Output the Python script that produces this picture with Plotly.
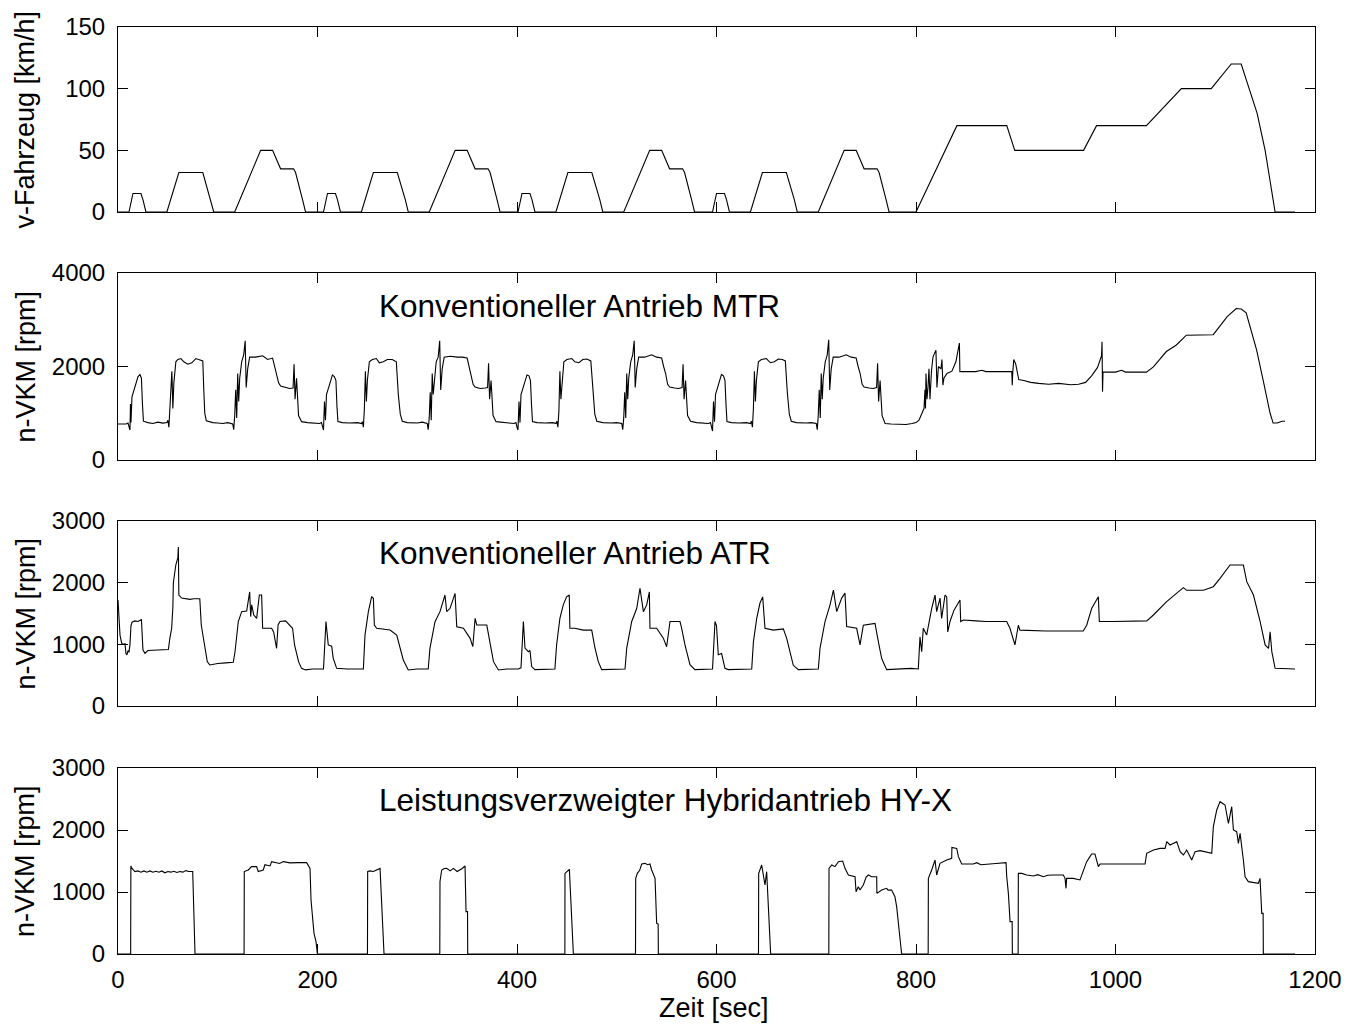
import plotly.graph_objects as go

# ---------------- data ----------------
# vehicle speed (NEDC-like cycle), time [s] and speed [km/h]
v_time = [0, 11, 15, 23, 25, 28, 49, 61, 85, 93, 96, 117, 143, 155, 163, 176, 178, 185, 188,
          206, 210, 218, 220, 223, 244, 256, 280, 288, 291, 312, 338, 350, 358, 371, 373, 380, 383,
          401, 405, 413, 415, 418, 439, 451, 475, 483, 486, 507, 533, 545, 553, 566, 568, 575, 578,
          596, 600, 608, 610, 613, 634, 646, 670, 678, 681, 702, 728, 740, 748, 761, 763, 770, 773,
          800, 841, 891, 899, 968, 981, 1031, 1066, 1096, 1116, 1126, 1142, 1150, 1160, 1180]
v_kmh = [0, 0, 15, 15, 10, 0, 0, 32, 32, 10, 0, 0, 50, 50, 35, 35, 32, 10, 0,
         0, 15, 15, 10, 0, 0, 32, 32, 10, 0, 0, 50, 50, 35, 35, 32, 10, 0,
         0, 15, 15, 10, 0, 0, 32, 32, 10, 0, 0, 50, 50, 35, 35, 32, 10, 0,
         0, 15, 15, 10, 0, 0, 32, 32, 10, 0, 0, 50, 50, 35, 35, 32, 10, 0,
         0, 70, 70, 50, 50, 70, 70, 100, 100, 120, 120, 80, 50, 0, 0]

# engine speed, conventional drive with manual transmission (time, rpm)
mtr_points = [
    (0, 770), (8, 770), (10, 790), (11, 700), (12, 640), (12.5, 1200), (13, 800), (14, 1350), (16, 1500), (18, 1620),
    (20, 1780), (22, 1830), (23.5, 1750), (24.5, 1200), (25.5, 830), (30, 800), (35, 780), (40, 810), (45, 790), (49, 800),
    (50, 850), (51, 700), (52, 1050), (53, 1550), (54, 1900), (55, 1100), (56, 1650), (58, 2100), (60, 2150), (63, 2170),
    (66, 2100), (70, 2050), (74, 2080), (78, 2170), (82, 2150), (85, 2120), (86, 1500), (87, 1000), (88.5, 840), (95, 800),
    (100, 790), (105, 780), (110, 800), (115, 770), (116, 650), (117, 950), (118, 1500), (119, 900), (120, 1850), (121, 1250),
    (122, 1750), (124, 2100), (126, 2250), (127.5, 2550), (128.5, 1550), (130, 1950), (132, 2200), (138, 2200), (145, 2230), (150, 2150),
    (155, 2180), (157, 2000), (159, 1880), (161, 1650), (163, 1580), (168, 1550), (172, 1530), (175.5, 1540), (176.5, 2050), (177.5, 1300),
    (179, 1750), (181, 950), (184, 820), (190, 800), (197, 790),
    (202, 780), (204, 800), (205, 700), (206, 640), (207, 1250), (208, 850), (209, 1400), (211, 1550), (213, 1700), (215, 1820),
    (217, 1780), (218.5, 1700), (219.5, 1150), (220.5, 820), (225, 800), (232, 790), (240, 800), (244, 780), (245, 820), (246, 700),
    (247, 1100), (248, 1900), (249, 1250), (250, 1700), (252, 2100), (255, 2150), (259, 2170), (262, 2080), (266, 2100), (270, 2150),
    (275, 2150), (279, 2100), (281, 1400), (283, 980), (285, 830), (290, 800), (300, 790), (305, 810), (310, 780), (311, 650),
    (312, 900), (313, 1450), (314, 850), (315, 1850), (316, 1400), (317, 1700), (319, 2100), (321, 2200), (322.5, 2550), (323.5, 1500),
    (325, 1950), (327, 2200), (333, 2220), (340, 2200), (345, 2200), (350, 2180), (352, 2000), (354, 1850), (356, 1620), (358, 1560),
    (363, 1530), (368, 1540), (370.5, 1550), (371.5, 2070), (372.5, 1300), (374, 1700), (376, 950), (379, 820), (385, 800), (392, 790),
    (397, 780), (399, 800), (400, 700), (401, 640), (402, 1250), (403, 800), (404, 1400), (406, 1550), (408, 1700), (410, 1820),
    (412, 1800), (413.5, 1700), (414.5, 1200), (415.5, 820), (420, 800), (428, 790), (436, 800), (439, 780), (440, 830), (441, 700),
    (442, 1050), (443, 1900), (444, 1300), (445, 1650), (447, 2100), (450, 2150), (455, 2170), (458, 2100), (462, 2080), (466, 2150),
    (470, 2160), (474, 2120), (476, 1450), (478, 980), (480, 830), (486, 800), (494, 790), (500, 800), (505, 780), (506, 650),
    (507, 900), (508, 1450), (509, 900), (510, 1850), (511, 1300), (512, 1750), (514, 2100), (516, 2250), (517.5, 2550), (518.5, 1550),
    (520, 1950), (522, 2200), (528, 2200), (535, 2250), (540, 2200), (545, 2180), (547, 2000), (549, 1850), (551, 1620), (553, 1560),
    (558, 1540), (562, 1530), (565.5, 1550), (566.5, 2050), (567.5, 1300), (569, 1700), (571, 950), (574, 830), (580, 800), (587, 790),
    (592, 780), (594, 800), (595, 700), (596, 620), (597, 1250), (598, 820), (599, 1400), (601, 1550), (603, 1700), (605, 1830),
    (607, 1800), (608.5, 1700), (609.5, 1200), (610.5, 820), (615, 800), (622, 790), (630, 800), (634, 780), (635, 830), (636, 700),
    (637, 1100), (638, 1900), (639, 1250), (640, 1700), (642, 2100), (645, 2150), (650, 2170), (654, 2080), (658, 2100), (662, 2160),
    (666, 2150), (669, 2120), (671, 1450), (673, 980), (675, 830), (680, 800), (690, 790), (695, 800), (700, 780), (701, 650),
    (702, 950), (703, 1500), (704, 900), (705, 1850), (706, 1300), (707, 1750), (709, 2100), (711, 2250), (712.5, 2570), (713.5, 1500),
    (715, 1950), (717, 2200), (723, 2200), (730, 2250), (735, 2200), (740, 2180), (742, 2000), (744, 1850), (746, 1620), (748, 1560),
    (753, 1540), (757, 1530), (760.5, 1550), (761.5, 2070), (762.5, 1250), (764, 1700), (766, 950), (769, 780), (775, 770), (782, 760),
    (790, 760), (796, 780),
    (800, 800), (803, 850), (806, 1000), (808, 1100), (809, 1500), (809.5, 1100), (810, 1850), (811, 1300), (812, 1550), (813, 1950),
    (814, 1300), (815.5, 1900), (817, 2200), (819, 2300), (820, 2350), (821, 1550), (822.5, 2000), (825, 1950), (826, 2150), (827, 1600),
    (828, 1750), (831, 1850), (836, 1900), (840, 2100), (842, 2300), (843.5, 2500), (844, 1890), (860, 1890), (866, 1920), (870, 1890),
    (896, 1890), (896.5, 1600), (897, 1870), (898, 2150), (900, 2050), (903, 1720), (908, 1700), (915, 1660), (923, 1640), (933, 1620),
    (943, 1640), (955, 1610), (963, 1620), (970, 1660), (976, 1800), (982, 1980), (986, 2230), (986.5, 2530), (987, 1460), (987.5, 1880),
    (1000, 1880), (1006, 1920), (1010, 1880), (1031, 1880), (1038, 1990), (1051, 2320), (1061, 2460), (1071, 2670), (1098, 2680), (1105, 2880),
    (1112, 3065), (1121, 3240), (1126, 3230), (1131, 3150), (1135, 2850), (1141.5, 2350), (1148, 1710), (1155, 1000), (1158, 790), (1162, 790),
    (1167, 830), (1170, 830),
]

# engine speed, conventional drive with automatic transmission (time, rpm)
atr_points = [
    (0, 1720), (1, 1400), (2, 1150), (3.7, 1020), (5, 1000), (7, 1010), (8, 850), (9, 830), (10, 900), (11, 870),
    (12, 1000), (13, 1300), (14, 1360), (17, 1380), (20, 1370), (23.5, 1400), (25, 910), (27, 855), (30, 900), (35, 905),
    (40, 910), (45, 905), (50.5, 915), (52, 1100), (53.8, 1260), (55, 1600), (55.5, 2000), (58, 2290), (60, 2400), (60.5, 2580),
    (61, 1800), (63.8, 1750), (68, 1740), (72, 1730), (76, 1740), (82, 1740), (83.5, 1310), (87, 990), (89.5, 720), (92, 665),
    (100, 690), (108, 700), (115.6, 710), (117.3, 880), (120.6, 1370), (124, 1530), (129, 1540), (132, 1850), (133, 1450), (134, 1640),
    (136, 1480), (139, 1420), (141.7, 1800), (144, 1800), (145, 1260), (149, 1260), (154, 1260), (156, 1200), (159, 935), (160.5, 1320),
    (162.4, 1370), (168, 1380), (172, 1320), (175, 1260), (177, 990), (181, 720), (184, 610), (188, 585), (195, 600), (206, 600),
    (208.5, 1370), (210.8, 990), (214.2, 970), (215.8, 773), (219.2, 611), (230, 600), (246, 600), (247.6, 1150), (251, 1530), (254.3, 1773),
    (256, 1746), (257, 1313), (259.3, 1260), (272.7, 1232), (279.4, 1150), (282.7, 935), (286, 746), (291, 584), (300, 600), (311, 600),
    (312.7, 935), (317.8, 1367), (322.8, 1530), (327.8, 1800), (329.5, 1530), (332.9, 1584), (337.9, 1827), (339.6, 1286), (346.3, 1260), (353, 1097),
    (355.7, 962), (358, 1421), (359.7, 1313), (369.7, 1313), (373, 989), (376.4, 719), (381.4, 584), (390, 600), (401.4, 600),
    (404, 620), (406.4, 1370), (407, 1200), (408, 940), (411.4, 880), (413, 900), (414.7, 640), (418, 590), (438, 600), (439.7, 990),
    (443, 1420), (446.4, 1640), (449.7, 1770), (452.4, 1800), (453, 1260), (458, 1260), (466.4, 1230), (474.9, 1230), (478.2, 940), (481.5, 720),
    (484.9, 590), (508.3, 600), (510, 940), (515, 1370), (520, 1580), (523.3, 1910), (526.7, 1530), (530, 1640), (532.7, 1850), (533.3, 1260),
    (540, 1260), (546.7, 1100), (550, 960), (553.4, 1370), (563.4, 1370), (565.1, 1260), (568.4, 990), (573.4, 670), (578.4, 590), (596, 600),
    (598.5, 1370), (600, 1300), (601.8, 830), (605.1, 850), (608.5, 610), (612, 590), (635.3, 600), (637, 1040), (640.3, 1420), (643.6, 1670),
    (646.3, 1770), (648.6, 1260), (657, 1230), (667, 1250), (670.3, 1100), (673.7, 880), (677, 660), (682, 590), (702.1, 600), (703.8, 940),
    (708.8, 1370), (713.8, 1640), (717.2, 1880), (720.5, 1530), (725.5, 1750), (728.8, 1830), (730.5, 1290), (740.5, 1260), (743.9, 990), (747.2, 1310),
    (758.9, 1340), (762.3, 1040), (765.6, 770), (770.6, 590), (780, 600), (795, 610), (802.3, 600),
    (804, 1120), (805.7, 880), (807.3, 1260), (810.7, 1150), (812.4, 1310), (815.7, 1580), (819.1, 1800), (820.7, 1530), (824.1, 1750), (825.7, 1420),
    (829.1, 1800), (830.8, 1770), (831.8, 1200), (834.1, 1370), (838, 1550), (840.8, 1640), (844.1, 1720), (844.8, 1370), (847.5, 1395), (860, 1380),
    (870, 1370), (884.2, 1370), (890.9, 1370), (894.2, 1260), (899.2, 990), (902.6, 1310), (904.2, 1230), (930, 1216), (954.4, 1216), (967.7, 1216),
    (971.1, 1310), (976.1, 1580), (982.8, 1770), (983.8, 1370), (997.8, 1370), (1031.3, 1380), (1038, 1476), (1051.3, 1692), (1068, 1920), (1071.4, 1876),
    (1088.1, 1876), (1098.1, 1935), (1104.8, 2070), (1114.8, 2286), (1128.2, 2286), (1131.6, 2016), (1138.3, 1800), (1145, 1370), (1150, 990), (1153.4, 935),
    (1155, 1205), (1156.7, 881), (1160, 611), (1180, 600),
]

# engine speed, power-split hybrid drive HY-X (time, rpm)
hyx_points = [
    (0, 0), (12.7, 0), (12.9, 1420), (14, 1380), (17, 1330), (20, 1340), (23, 1320), (26, 1340), (29, 1320), (32, 1340),
    (35, 1320), (38, 1335), (41, 1320), (44, 1340), (47, 1310), (50, 1330), (53, 1320), (56, 1335), (59, 1315), (62, 1330),
    (65, 1320), (68, 1345), (71, 1330), (74.9, 1330), (77.2, 0), (126.4, 0),
    (126.6, 1330), (130.6, 1355), (133.9, 1410), (138.9, 1410), (140.6, 1330), (143, 1340), (145.6, 1355), (147.3, 1440), (152.4, 1420), (154, 1490),
    (159, 1470), (162, 1460), (165.7, 1490), (172.4, 1470), (180, 1473), (189.1, 1473), (192.5, 1380), (193.5, 870), (196.5, 333), (198.5, 199),
    (199.9, 0), (250.1, 0),
    (250.3, 1330), (252.7, 1340), (256, 1330), (259.3, 1350), (262.7, 1380), (266.7, 0), (322.6, 0),
    (322.8, 1170), (324.5, 1355), (327, 1380), (329.5, 1382), (333, 1340), (336.2, 1380), (340, 1330), (342.9, 1355), (345, 1380), (347.9, 1420),
    (348.9, 683), (350.4, 683), (350.6, 0), (448, 0),
    (448.1, 1300), (450, 1330), (452.5, 1366), (456.5, 0), (518.8, 0),
    (519, 1220), (520.6, 1301), (523, 1350), (525, 1452), (528.3, 1462), (531, 1440), (533.3, 1452), (535, 1355), (538.4, 1220), (540, 495),
    (541.5, 484), (541.7, 0), (642.1, 0),
    (642.3, 1300), (645.3, 1435), (648.6, 1113), (650.3, 1328), (654.3, 0), (712.6, 0),
    (712.8, 1380), (715.5, 1435), (718.8, 1409), (722.2, 1489), (726.5, 1500), (728.8, 1382), (732.2, 1274), (738.9, 1247), (739.9, 1005), (742.2, 1086),
    (743.9, 1032), (745, 1060), (747.2, 1113), (750, 1240), (752.2, 1274), (755.6, 1247), (760.6, 1247), (760.8, 978), (765.6, 1032), (770.6, 1059),
    (772, 1030), (775.6, 1032), (778.9, 925), (780.6, 763), (785.6, 0), (812.2, 0),
    (812.4, 1220), (815.7, 1355), (819.1, 1516), (820.7, 1274), (824.1, 1462), (830.8, 1516), (835.8, 1543), (836, 1720), (840.8, 1704), (842.5, 1570),
    (845.8, 1452), (857.5, 1452), (860.9, 1473), (865, 1440), (870.9, 1452), (880, 1460), (890.3, 1473), (890.9, 1258), (892.6, 978), (894.3, 522),
    (896.4, 522), (896.6, 0), (902.4, 0),
    (902.6, 1300), (906, 1300), (911, 1274), (917.7, 1258), (922, 1280), (927.7, 1247), (932, 1270), (937.7, 1274), (947.7, 1274), (949.4, 1220),
    (950.4, 1059), (951, 1220), (957.7, 1220), (964.4, 1194), (967.1, 1301), (971.1, 1489), (974.4, 1570), (976.1, 1613), (979.4, 1613), (982.8, 1409),
    (984.5, 1452), (1029.6, 1452), (1031.3, 1624), (1038, 1677), (1044.7, 1704), (1049.7, 1704), (1051.4, 1812), (1054.7, 1758), (1061.4, 1812), (1064.8, 1651),
    (1068.1, 1597), (1071.4, 1677), (1076.4, 1516), (1079.8, 1651), (1084.8, 1667), (1096.5, 1624), (1098.1, 2054), (1101.5, 2323), (1104.8, 2457), (1109.8, 2403),
    (1113.2, 2108), (1116.5, 2376), (1118.2, 2000), (1121.5, 1973), (1123.2, 1785), (1124.9, 1946), (1128.2, 1516), (1129.9, 1247), (1133.2, 1167), (1143.2, 1140),
    (1144.9, 1220), (1146.6, 656), (1148, 656), (1148.2, 0), (1180, 0),
]

# axis ticks and labels
x_ticks = [0, 200, 400, 600, 800, 1000, 1200]
y1_ticks = [0, 50, 100, 150]
y2_ticks = [0, 2000, 4000]
y3_ticks = [0, 1000, 2000, 3000]
y4_ticks = [0, 1000, 2000, 3000]
y_titles = ["v-Fahrzeug [km/h]", "n-VKM [rpm]", "n-VKM [rpm]", "n-VKM [rpm]"]
x_title = "Zeit [sec]"
panel_labels = ["Konventioneller Antrieb MTR", "Konventioneller Antrieb ATR",
                "Leistungsverzweigter Hybridantrieb HY-X"]

# ---------------- figure ----------------
W, H = 1361, 1025
FONT = "Liberation Sans, Arial, Helvetica, sans-serif"
x_dom = [118 / W, 1315 / W]
panels_px = [(27, 212), (273, 460), (521, 706), (768, 954)]
y_doms = [[1 - b / H, 1 - t / H] for (t, b) in panels_px]

fig = go.Figure()

series = [
    (v_time, v_kmh),
    ([p[0] for p in mtr_points], [p[1] for p in mtr_points]),
    ([p[0] for p in atr_points], [p[1] for p in atr_points]),
    ([p[0] for p in hyx_points], [p[1] for p in hyx_points]),
]
for i, (xs, ys) in enumerate(series):
    sfx = "" if i == 0 else str(i + 1)
    fig.add_trace(go.Scatter(x=xs, y=ys, mode="lines",
                             line=dict(color="black", width=1.1),
                             xaxis="x" + sfx, yaxis="y" + sfx,
                             showlegend=False, hoverinfo="skip"))

axis_common = dict(showline=True, linecolor="black", linewidth=1, mirror="allticks",
                   ticks="inside", ticklen=10, tickcolor="black", tickwidth=1,
                   showgrid=False, zeroline=False, automargin=False,
                   tickfont=dict(family=FONT, size=24, color="black"))

y_ranges = [[0, 150], [0, 4000], [0, 3000], [0, 3000]]
y_tickvals = [y1_ticks, y2_ticks, y3_ticks, y4_ticks]

layout = dict(width=W, height=H, margin=dict(l=0, r=0, t=0, b=0),
              paper_bgcolor="white", plot_bgcolor="white", showlegend=False,
              font=dict(family=FONT, size=24, color="black"))
for i in range(4):
    sfx = "" if i == 0 else str(i + 1)
    layout["xaxis" + sfx] = dict(axis_common, domain=x_dom, range=[0, 1200],
                                 tickvals=x_ticks, anchor="y" + sfx,
                                 showticklabels=(i == 3), ticklabelstandoff=4)
    layout["yaxis" + sfx] = dict(axis_common, domain=y_doms[i], range=y_ranges[i],
                                 tickvals=y_tickvals[i], anchor="x" + sfx,
                                 ticklabelstandoff=7)
fig.update_layout(**layout)

annotations = []
for i in range(4):
    t, b = panels_px[i]
    annotations.append(dict(text=y_titles[i], xref="paper", yref="paper",
                            x=25 / W, y=1 - ((t + b) / 2) / H, textangle=-90,
                            xanchor="center", yanchor="middle", showarrow=False,
                            font=dict(family=FONT, size=27, color="black")))
annotations.append(dict(text=x_title, xref="paper", yref="paper",
                        x=714 / W, y=1 - 1008 / H, xanchor="center", yanchor="middle",
                        showarrow=False, font=dict(family=FONT, size=27, color="black")))
label_pos = [("x2", "y2", 3290), ("x3", "y3", 2480), ("x4", "y4", 2480)]
for (xr, yr, yv), txt in zip(label_pos, panel_labels):
    annotations.append(dict(text=txt, xref=xr, yref=yr, x=260, y=yv,
                            xanchor="left", yanchor="middle", showarrow=False,
                            font=dict(family=FONT, size=31.5, color="black")))
fig.update_layout(annotations=annotations)

fig.write_html("out.html", config={"displayModeBar": False},
               post_script="document.body.style.margin='0px';document.body.style.overflow='hidden';")
